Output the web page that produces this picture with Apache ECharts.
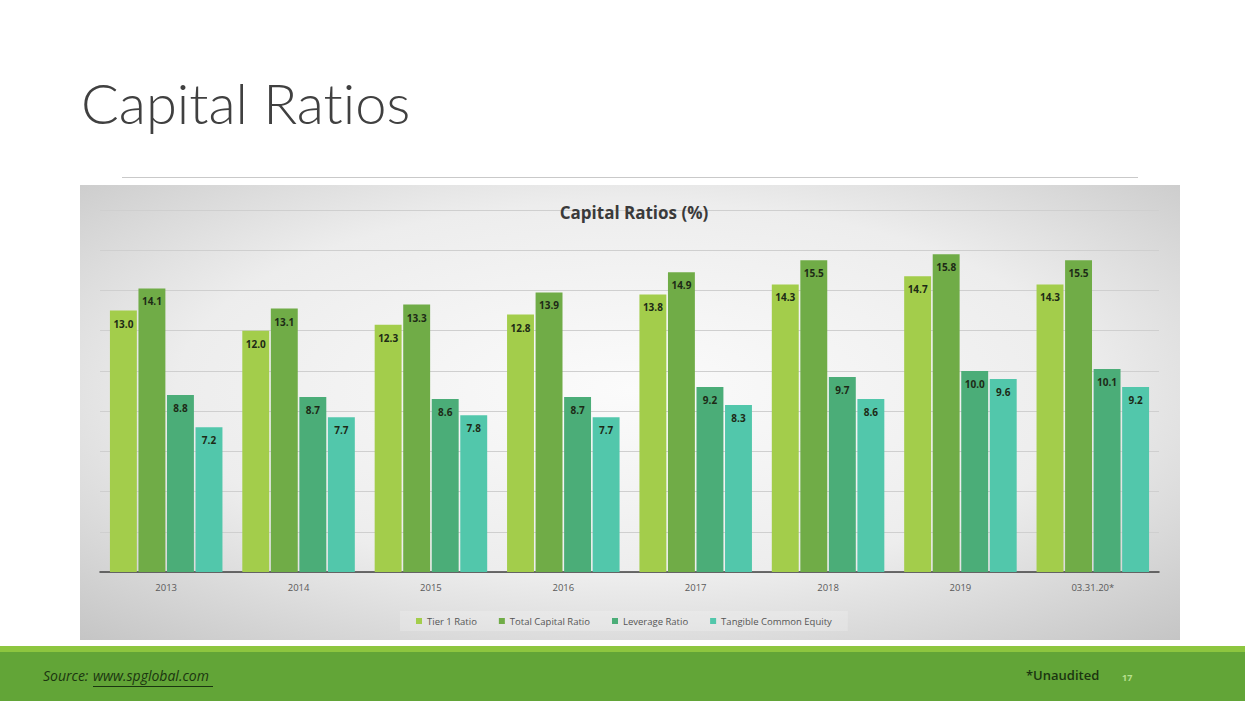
<!DOCTYPE html>
<html>
<head>
<meta charset="utf-8">
<script src="https://cdn.jsdelivr.net/npm/echarts@6/dist/echarts.min.js"></script>
<style>
html,body{margin:0;padding:0;background:#fff;}
#main{width:1245px;height:701px;}
#main text{font-variant-ligatures:none;font-feature-settings:"liga" 0;}
</style>
</head>
<body>
<div id="main"></div>
<script>
const categories = ['2013','2014','2015','2016','2017','2018','2019','03.31.20*'];
const tier1Ratio = [13.0, 12.0, 12.3, 12.8, 13.8, 14.3, 14.7, 14.3];
const totalCapitalRatio = [14.1, 13.1, 13.3, 13.9, 14.9, 15.5, 15.8, 15.5];
const leverageRatio = [8.8, 8.7, 8.6, 8.7, 9.2, 9.7, 10.0, 10.1];
const tangibleCommonEquity = [7.2, 7.7, 7.8, 7.7, 8.3, 8.6, 9.6, 9.2];
const seriesNames = ['Tier 1 Ratio','Total Capital Ratio','Leverage Ratio','Tangible Common Equity'];
const seriesColors = ['#a3cd4b','#70ac47','#4bad78','#52c7ab'];

const chart = echarts.init(document.getElementById('main'), null, {renderer:'svg'});

const labelStyle = {
  show: true,
  position: 'insideTop',
  distance: 8,
  fontFamily: 'Open Sans',
  fontWeight: 'bold',
  fontSize: 10,
  color: '#1d2a16',
  formatter: p => p.value.toFixed(1)
};

function makeSeries(name, data, color){
  return {
    name: name,
    type: 'bar',
    data: data,
    itemStyle: {color: color},
    barGap: '6%',
    barCategoryGap: '15%',
    label: labelStyle
  };
}

chart.setOption({
  animation: false,
  textStyle: {fontFamily: 'Open Sans'},
  title: {
    text: 'Capital Ratios (%)',
    left: 629,
    top: 199,
    textAlign: 'center',
    textStyle: {fontFamily: 'Open Sans', fontWeight: 'bold', fontSize: 17, color: '#3a3a3a'}
  },
  legend: {
    data: seriesNames,
    left: 400,
    top: 611,
    icon: 'rect',
    itemWidth: 6,
    itemHeight: 6,
    itemGap: 22,
    padding: [5, 16],
    backgroundColor: 'rgba(255,255,255,0.2)',
    textStyle: {fontFamily: 'Open Sans', fontSize: 9.5, color: '#555'}
  },
  grid: {left: 100, right: 86, top: 210, bottom: 129, containLabel: false},
  xAxis: {
    type: 'category',
    data: categories,
    axisLine: {lineStyle: {color: '#404040', width: 1.5}},
    axisTick: {show: false},
    axisLabel: {fontFamily: 'Open Sans', fontSize: 9.5, color: '#5a5a5a', margin: 10}
  },
  yAxis: {
    type: 'value',
    min: 0,
    max: 18,
    interval: 2,
    axisLabel: {show: false},
    axisLine: {show: false},
    axisTick: {show: false},
    splitLine: {lineStyle: {color: '#cfcfcf', width: 1}}
  },
  series: [
    makeSeries(seriesNames[0], tier1Ratio, seriesColors[0]),
    makeSeries(seriesNames[1], totalCapitalRatio, seriesColors[1]),
    makeSeries(seriesNames[2], leverageRatio, seriesColors[2]),
    makeSeries(seriesNames[3], tangibleCommonEquity, seriesColors[3])
  ],
  graphic: [
    {
      type: 'rect', z: -100,
      shape: {x: 80, y: 185, width: 1100, height: 455},
      style: {
        fill: {
          type: 'radial', x: 0.5, y: 0.45, r: 0.75,
          colorStops: [
            {offset: 0, color: '#fbfbfb'},
            {offset: 0.55, color: '#ededed'},
            {offset: 1, color: '#c4c4c4'}
          ]
        }
      }
    },
    {
      type: 'text', z: 10,
      left: 81, top: 74,
      style: {text: 'Capital Ratios', fontFamily: 'Lato', fontWeight: 300, fontSize: 56, fill: '#404040'}
    },
    {
      type: 'line', z: 10,
      shape: {x1: 122, y1: 177.5, x2: 1138, y2: 177.5},
      style: {stroke: '#c9c9c9', lineWidth: 1}
    },
    {
      type: 'rect', z: 10,
      shape: {x: 0, y: 646, width: 1245, height: 55},
      style: {fill: '#62a537'}
    },
    {
      type: 'rect', z: 11,
      shape: {x: 0, y: 646, width: 1245, height: 6},
      style: {fill: '#8dc63f'}
    },
    {
      type: 'text', z: 12,
      left: 43, top: 668,
      style: {text: 'Source:', fontFamily: 'Open Sans', fontStyle: 'italic', fontSize: 14, fill: '#1b3510'}
    },
    {
      type: 'text', z: 12,
      left: 93, top: 668,
      style: {text: 'www.spglobal.com', fontFamily: 'Open Sans', fontStyle: 'italic', fontSize: 14, fill: '#1b3510'}
    },
    {
      type: 'line', z: 12,
      shape: {x1: 93, y1: 686.5, x2: 213, y2: 686.5},
      style: {stroke: '#1b3510', lineWidth: 1}
    },
    {
      type: 'text', z: 12,
      left: 1026, top: 668,
      style: {text: '*Unaudited', fontFamily: 'Open Sans', fontWeight: 600, fontSize: 13, fill: '#1b3510'}
    },
    {
      type: 'text', z: 12,
      left: 1122, top: 673,
      style: {text: '17', fontFamily: 'Open Sans', fontWeight: 'bold', fontSize: 9, fill: '#b9e08f'}
    }
  ]
});
</script>
</body>
</html>
